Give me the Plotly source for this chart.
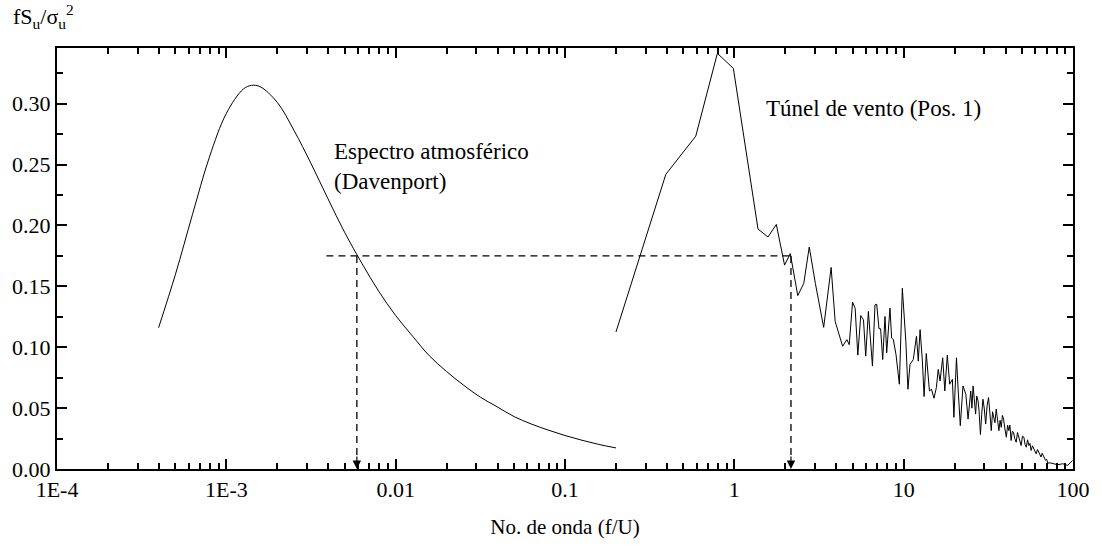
import math
import plotly.graph_objects as go

# Davenport atmospheric spectrum (reduced frequency f/U vs fS_u/sigma_u^2)
freq_davenport = [3.98e-4, 5.01e-4, 6.31e-4, 7.94e-4, 1.0e-3, 1.26e-3, 1.41e-3, 1.58e-3,
                  2.0e-3, 2.51e-3, 3.16e-3, 3.98e-3, 5.01e-3, 6.31e-3, 7.94e-3, 1.0e-2,
                  1.26e-2, 1.58e-2, 2.0e-2, 2.51e-2, 3.16e-2, 3.98e-2, 5.01e-2, 6.31e-2,
                  7.94e-2, 0.1, 0.126, 0.158, 0.2]
spec_davenport = [0.116, 0.160, 0.209, 0.256, 0.292, 0.312, 0.315, 0.314,
                  0.301, 0.278, 0.251, 0.222, 0.194, 0.169, 0.146, 0.126,
                  0.109, 0.093, 0.080, 0.069, 0.059, 0.051, 0.043, 0.037,
                  0.032, 0.0275, 0.0236, 0.0202, 0.0173]

# Wind tunnel measurement (position 1)
freq_tunel = [0.2, 0.394, 0.592, 0.794, 0.987, 1.38, 1.58, 1.77, 1.98, 2.14, 2.37, 2.57,
              2.77, 3.01, 3.37, 3.73, 3.94, 4.36, 4.62, 4.77, 4.99, 5.17, 5.36, 5.58,
              5.79, 5.97, 6.19, 6.54, 6.77, 6.93, 7.15, 7.31, 7.52, 7.76, 7.94, 8.30,
              8.49, 8.69, 9.01, 9.43, 9.82, 10.3, 10.6, 10.9, 11.4, 11.9, 12.2, 12.5,
              12.9, 13.2, 13.6, 14.2, 14.6, 15.1, 15.6, 16.0, 16.4, 17.0, 17.5, 18.1,
              18.7, 19.4, 19.8, 20.5, 21.0, 21.6, 22.4, 23.3, 24.0, 24.9, 25.3, 25.7,
              26.1, 26.6, 27.0, 27.5, 27.9, 28.4, 28.9, 29.4, 29.9, 30.5, 31.1, 31.7,
              32.3, 32.9, 33.5, 34.1, 34.6, 35.2, 35.8, 36.5, 37.1, 37.7, 38.3, 38.9,
              39.6, 40.4, 41.1, 41.8, 42.4, 43.1, 43.8, 44.5, 45.3, 46.2, 47.0, 47.9,
              48.6, 49.4, 50.3, 51.3, 52.1, 53.0, 53.9, 54.9, 55.7, 56.6, 57.6, 58.7,
              59.6, 60.6, 61.7, 62.8, 63.8, 64.8, 65.8, 66.9, 67.8, 68.8, 69.9, 71.0,
              73.4, 75.9, 81.2, 86.9, 93.0, 99.5]
spec_tunel = [0.1125, 0.242, 0.2733, 0.3413, 0.329, 0.197, 0.1905, 0.2008, 0.1674, 0.1769, 0.1424, 0.1524,
              0.1823, 0.1524, 0.1163, 0.1655, 0.1212, 0.1008, 0.1062, 0.1021, 0.137, 0.132, 0.0935, 0.126,
              0.1225, 0.0927, 0.1294, 0.0845, 0.1348, 0.1353, 0.1152, 0.1152, 0.0899, 0.1253, 0.0954, 0.1321,
              0.1076, 0.1062, 0.094, 0.0696, 0.1484, 0.1049, 0.0655, 0.0859, 0.0899, 0.109, 0.0886, 0.1144,
              0.0886, 0.0595, 0.0948, 0.0641, 0.0655, 0.0581, 0.0668, 0.0818, 0.0723, 0.0913, 0.0641, 0.0935,
              0.0696, 0.0736, 0.0424, 0.0913, 0.0641, 0.0356, 0.0682, 0.0614, 0.041, 0.0641, 0.050, 0.0682,
              0.058, 0.0451, 0.060, 0.056, 0.047, 0.0283, 0.045, 0.0573, 0.050, 0.0369, 0.052, 0.0587,
              0.046, 0.0315, 0.047, 0.0424, 0.038, 0.0492, 0.040, 0.0315, 0.040, 0.0342, 0.044, 0.041,
              0.033, 0.0261, 0.036, 0.0315, 0.036, 0.0234, 0.031, 0.0302, 0.025, 0.022, 0.030, 0.0261,
              0.022, 0.0193, 0.027, 0.0261, 0.020, 0.0179, 0.024, 0.0193, 0.021, 0.0152, 0.019, 0.0165,
              0.015, 0.0125, 0.016, 0.0139, 0.012, 0.0098, 0.013, 0.0112, 0.009, 0.0071, 0.008, 0.0049,
              0.005, 0.0043, 0.0035, 0.0043, 0.003, 0.007]

# Reference level and the two frequencies it picks out
ref_level = 0.175
ref_freq_start = 0.0039
ref_freq_atm = 0.0059
ref_freq_tunel = 2.16

x_tickvals = [1e-4, 1e-3, 1e-2, 1e-1, 1, 10, 100]
x_ticktext = ["1E-4", "1E-3", "0.01", "0.1", "1", "10", "100"]

FONT = "Liberation Serif"
FS = 22
FS_NOTE = 23
INK = "#000000"

fig = go.Figure()

fig.add_trace(go.Scatter(x=freq_davenport, y=spec_davenport, mode="lines",
                         line=dict(color=INK, width=1, shape="spline", smoothing=1.0),
                         hoverinfo="skip", showlegend=False))
fig.add_trace(go.Scatter(x=freq_tunel, y=spec_tunel, mode="lines",
                         line=dict(color=INK, width=1),
                         hoverinfo="skip", showlegend=False))

dash = dict(color=INK, width=1.3, dash="7px,5px")
fig.add_trace(go.Scatter(x=[ref_freq_start, ref_freq_tunel], y=[ref_level, ref_level],
                         mode="lines", line=dash, hoverinfo="skip", showlegend=False))
fig.add_trace(go.Scatter(x=[ref_freq_atm, ref_freq_atm], y=[ref_level, 0.008],
                         mode="lines", line=dash, hoverinfo="skip", showlegend=False))
fig.add_trace(go.Scatter(x=[ref_freq_tunel, ref_freq_tunel], y=[ref_level, 0.008],
                         mode="lines", line=dash, hoverinfo="skip", showlegend=False))

# Arrow heads pointing at the axis (annotation x is in log10 units on a log axis)
for fx in (ref_freq_atm, ref_freq_tunel):
    fig.add_annotation(x=math.log10(fx), y=0, xref="x", yref="y", ax=0, ay=-14,
                       showarrow=True, arrowhead=2, arrowsize=1.4, arrowwidth=1.2,
                       arrowcolor=INK, standoff=0, text="")

fig.add_annotation(x=math.log10(0.0042), y=0.248, xref="x", yref="y", xanchor="left", yanchor="middle",
                   text="Espectro atmosférico<br>(Davenport)", align="left", showarrow=False,
                   font=dict(family=FONT, size=FS_NOTE, color=INK))
fig.add_annotation(x=math.log10(1.49), y=0.296, xref="x", yref="y", xanchor="left", yanchor="middle",
                   text="Túnel de vento (Pos. 1)", align="left", showarrow=False,
                   font=dict(family=FONT, size=FS_NOTE, color=INK))

fig.add_annotation(x=-0.045, y=1.075, xref="paper", yref="paper", xanchor="left", yanchor="middle",
                   text="fS<sub>u</sub>/σ<sub>u</sub><sup>2</sup>", showarrow=False,
                   font=dict(family=FONT, size=FS, color=INK))

log_minor = [m * 10 ** k for k in range(-4, 2) for m in range(2, 10)]

fig.update_xaxes(type="log", range=[-4, 2],
                 tickvals=x_tickvals, ticktext=x_ticktext,
                 ticks="inside", ticklen=10, tickwidth=1.5, tickcolor=INK,
                 showline=True, linewidth=2, linecolor=INK, mirror="allticks",
                 showgrid=False, zeroline=False,
                 minor=dict(tickvals=log_minor, ticks="inside", ticklen=6, tickwidth=1.5,
                            tickcolor=INK, showgrid=False),
                 tickfont=dict(family=FONT, size=FS, color=INK),
                 title=dict(text="No. de onda (f/U)", standoff=18,
                            font=dict(family=FONT, size=FS - 1, color=INK)))

fig.update_yaxes(range=[0, 0.3457], dtick=0.05, tick0=0, tickformat=".2f",
                 ticks="inside", ticklen=10, tickwidth=1.5, tickcolor=INK,
                 showline=True, linewidth=2, linecolor=INK, mirror="allticks",
                 showgrid=False, zeroline=False,
                 minor=dict(dtick=0.025, tick0=0, ticks="inside", ticklen=6, tickwidth=1.5,
                            tickcolor=INK, showgrid=False),
                 tickfont=dict(family=FONT, size=FS, color=INK))

fig.update_layout(width=1102, height=547,
                  margin=dict(l=57, r=25, t=48, b=75),
                  paper_bgcolor="white", plot_bgcolor="white",
                  font=dict(family=FONT, color=INK),
                  showlegend=False)

fig.write_html("out.html")
